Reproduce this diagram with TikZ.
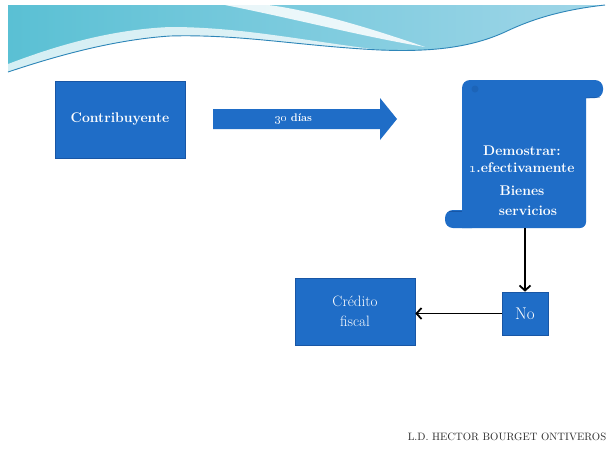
\documentclass[tikz,border=0pt]{standalone}
\usetikzlibrary{arrows.meta}
\definecolor{boxblue}{RGB}{31,109,199}
\definecolor{boxedge}{RGB}{24,86,165}
\definecolor{boxdark}{RGB}{22,80,150}
\definecolor{hdL}{RGB}{90,192,212}
\definecolor{hdR}{RGB}{160,214,232}
\definecolor{lineblue}{RGB}{46,134,184}
\definecolor{footgray}{RGB}{45,45,45}
\tikzset{
  box/.style={fill=boxblue, draw=boxedge, line width=0.6pt, text=white,
    inner sep=0pt, align=center},
  boldtxt/.style={font=\fontsize{14}{18}\selectfont\bfseries},
  plaintxt/.style={font=\fontsize{15}{20}\selectfont},
  conn/.style={draw=black, line width=1.8pt,
    -{Straight Barb[length=5pt,width=11pt,line width=1.8pt]}},
}
\begin{document}
\begin{tikzpicture}[x=1pt,y=-1pt]
\useasboundingbox (0,0) rectangle (610,461);
\fill[white] (0,0) rectangle (610,461);

% header wave band
\shade[left color=hdL, right color=hdR]
  (8,5) -- (605,5)
  .. controls (560,10) and (530,20) .. (505,32)
  .. controls (470,48) and (430,52) .. (380,50)
  .. controls (300,46) and (240,34) .. (170,36)
  .. controls (110,40) and (50,58) .. (8,72) -- cycle;
% soft white glow above the lower edge
\fill[white, opacity=0.75]
  (8,72) .. controls (50,58) and (110,40) .. (170,36)
  .. controls (240,34) and (300,46) .. (380,50)
  .. controls (300,40) and (240,27) .. (170,27)
  .. controls (100,30) and (40,52) .. (8,64) -- cycle;
% white swoosh
\fill[white, opacity=0.85]
  (225,5) .. controls (300,20) and (360,36) .. (425,47)
  .. controls (370,28) and (310,10) .. (268,5) -- cycle;
% thin line along the lower edge
\draw[lineblue, line width=0.9pt]
  (8,72) .. controls (50,58) and (110,40) .. (170,36)
  .. controls (240,34) and (300,46) .. (380,50)
  .. controls (430,52) and (470,48) .. (505,32)
  .. controls (530,20) and (560,10) .. (605,5);

% first box
\node[box, boldtxt, minimum width=130pt, minimum height=77pt]
  (contrib) at (120,119.5) {Contribuyente};

% block arrow
\fill[boxblue] (213,109) -- (380,109) -- (380,98) -- (397,119)
  -- (380,140) -- (380,129) -- (213,129) -- cycle;
\node[text=white, font=\fontsize{11}{13}\selectfont\bfseries]
  (flowlbl) at (294,119) {\oldstylenums{30} días};

% scroll shape
\fill[boxblue] (462,90) -- (586,90) -- (586,220)
  [rounded corners=6pt] -- (586,228) -- (470,228) [sharp corners] -- (462,228) -- cycle;
\fill[boxblue, rounded corners=8pt] (462,80) rectangle (603,98);
\fill[boxblue, rounded corners=8pt] (445,210) rectangle (480,228);
\fill[boxdark, opacity=0.3] (475,89) circle (3.5pt);
\draw[boxedge, line width=0.5pt] (586,98) -- (600,97);
\draw[boxedge, line width=0.5pt] (449,211) -- (462,211);
\node[minimum width=124pt, minimum height=148pt, inner sep=0pt]
  (scroll) at (524,154) {};
\node[text=white, boldtxt, align=center] (scrolltext) at (522,181)
  {Demostrar:\\[-1pt]\oldstylenums{1}.efectivamente\\[5pt]Bienes\\[2pt]
   \hspace*{12pt}servicios};

% lower boxes
\node[box, plaintxt, minimum width=46pt, minimum height=43pt,
  font=\fontsize{17}{20}\selectfont]
  (no) at (525,313.5) {No};
\node[box, plaintxt, minimum width=120pt, minimum height=67pt]
  (credito) at (355,311.5) {Crédito\\fiscal};

% connectors
\draw[conn] (scroll.south -| no.north) -- (no.north);
\draw[conn] (no.west) -- (no.west -| credito.east);

% footer
\node[text=footgray, font=\fontsize{10.7}{13}\selectfont]
  (author) at (507,437) {L.D. HECTOR BOURGET ONTIVEROS};
\end{tikzpicture}
\end{document}
